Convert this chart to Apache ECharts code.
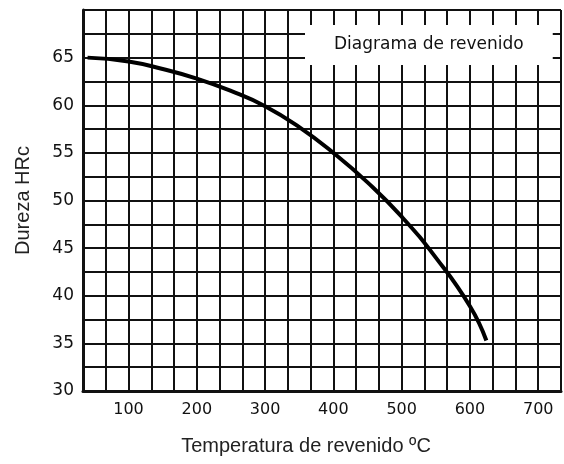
<!DOCTYPE html>
<html>
<head>
<meta charset="utf-8">
<script src="https://cdn.jsdelivr.net/npm/echarts@6/dist/echarts.min.js"></script>
<style>
  html, body { margin: 0; padding: 0; background: #fff; }
  #chart { width: 564px; height: 464px; }
</style>
</head>
<body>
<div id="chart"></div>
<script>
// curve: tempering temperature (ºC) vs hardness (HRc)
const temperatures = [40, 100, 150, 200, 250, 300, 350, 400, 450, 500, 550, 600, 624]
const hardness = [65.0, 64.6, 63.8, 62.8, 61.5, 59.9, 57.7, 55.0, 51.9, 48.3, 44.0, 38.9, 35.3]

const xTickLabels = [100, 200, 300, 400, 500, 600, 700]
const yTickLabels = [30, 35, 40, 45, 50, 55, 60, 65]

const labelFont = '"DejaVu Sans", sans-serif'
const nameFont = '"Liberation Sans", Arial, sans-serif'

function pickLabel(list) {
  return function (v) {
    const r = Math.round(v * 10) / 10
    return list.indexOf(r) >= 0 && Math.abs(v - r) < 0.01 ? String(r) : ''
  }
}

const chart = echarts.init(document.getElementById('chart'), null, { renderer: 'canvas' })
chart.setOption({
  animation: false,
  backgroundColor: '#fff',
  title: {
    text: 'Diagrama de revenido',
    left: 305,
    top: 25,
    padding: [10, 29, 10, 29],
    backgroundColor: '#fff',
    textStyle: { fontFamily: labelFont, fontSize: 17, lineHeight: 20, fontWeight: 'normal', color: '#111' }
  },
  grid: { left: 83, top: 10, width: 483, height: 381, containLabel: false },
  xAxis: {
    type: 'value',
    min: 100 / 3,
    max: 2200 / 3,
    interval: 100 / 3,
    name: 'Temperatura de revenido ºC',
    nameLocation: 'middle',
    nameGap: 45,
    nameTextStyle: { fontFamily: nameFont, fontSize: 20, color: '#222', padding: [0, 32, 0, 0] },
    axisLine: { show: true, lineStyle: { color: '#111', width: 3 } },
    axisTick: { show: false },
    axisLabel: {
      interval: 0,
      margin: 11,
      fontFamily: labelFont,
      fontSize: 16,
      color: '#111',
      formatter: pickLabel(xTickLabels)
    },
    splitLine: { show: true, lineStyle: { color: '#111', width: 2 } }
  },
  yAxis: {
    type: 'value',
    min: 30,
    max: 70,
    interval: 2.5,
    name: 'Dureza HRc',
    nameLocation: 'middle',
    nameGap: 50,
    nameRotate: 90,
    nameTextStyle: { fontFamily: nameFont, fontSize: 20, color: '#222' },
    axisLine: { show: true, lineStyle: { color: '#111', width: 3 } },
    axisTick: { show: false },
    axisLabel: {
      interval: 0,
      margin: 9,
      fontFamily: labelFont,
      fontSize: 17,
      color: '#111',
      formatter: pickLabel(yTickLabels)
    },
    splitLine: { show: true, lineStyle: { color: '#111', width: 2 } }
  },
  series: [
    {
      type: 'line',
      smooth: true,
      symbol: 'none',
      lineStyle: { color: '#000', width: 4 },
      data: temperatures.map((t, i) => [t, hardness[i]])
    }
  ]
})
</script>
</body>
</html>
